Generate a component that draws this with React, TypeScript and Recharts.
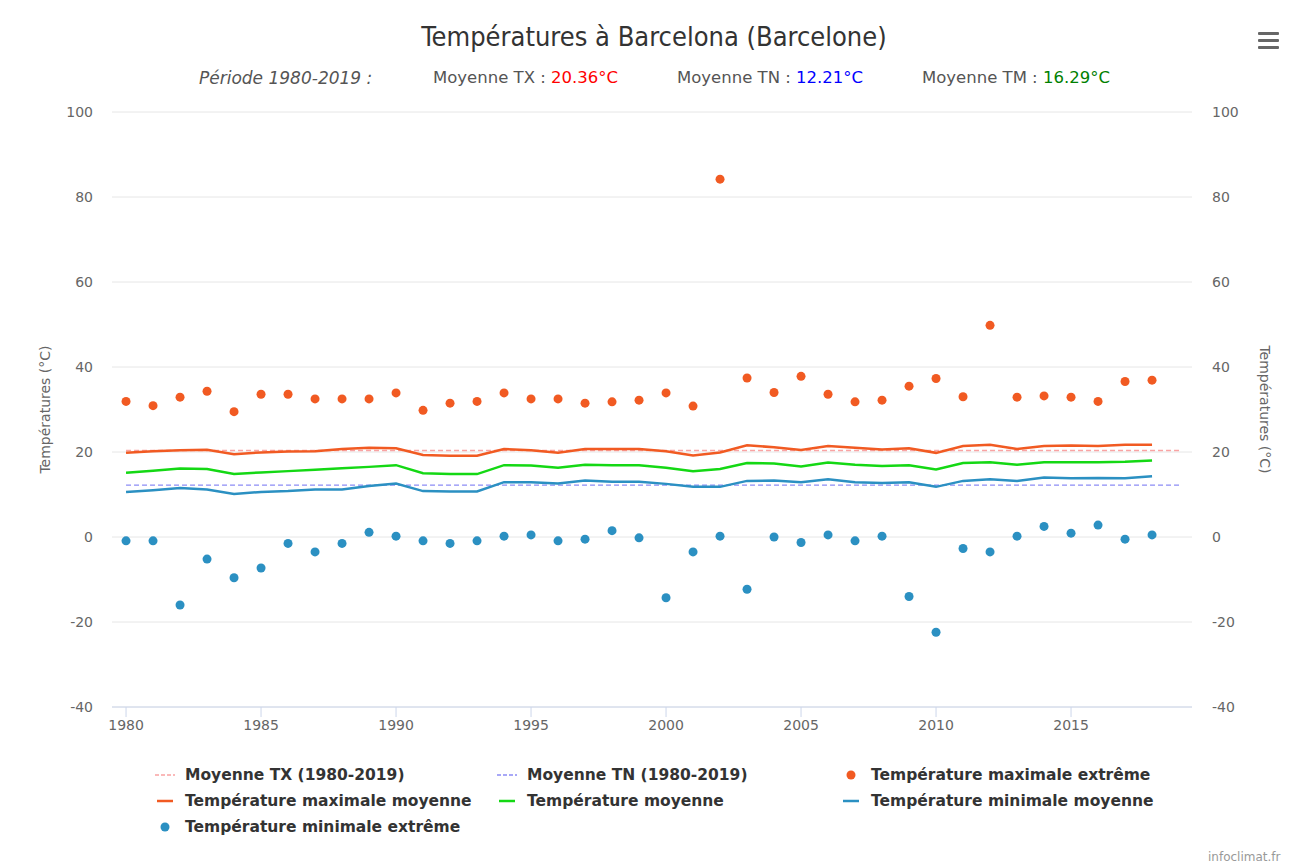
import React from 'react';
import { ComposedChart, Line, XAxis, YAxis, CartesianGrid } from 'recharts';

const years = [1980, 1981, 1982, 1983, 1984, 1985, 1986, 1987, 1988, 1989, 1990, 1991, 1992, 1993, 1994, 1995, 1996, 1997, 1998, 1999, 2000, 2001, 2002, 2003, 2004, 2005, 2006, 2007, 2008, 2009, 2010, 2011, 2012, 2013, 2014, 2015, 2016, 2017, 2018];
const txExtreme = [31.9, 30.9, 32.9, 34.3, 29.5, 33.6, 33.6, 32.5, 32.5, 32.5, 33.9, 29.8, 31.5, 31.9, 33.9, 32.5, 32.5, 31.5, 31.8, 32.2, 33.9, 30.8, 84.2, 37.4, 34.0, 37.8, 33.6, 31.8, 32.2, 35.5, 37.3, 33.0, 49.8, 32.9, 33.2, 32.9, 31.9, 36.6, 36.9];
const txMean = [19.8, 20.2, 20.4, 20.5, 19.5, 19.9, 20.1, 20.2, 20.7, 21.0, 20.9, 19.3, 19.1, 19.1, 20.7, 20.4, 19.8, 20.7, 20.7, 20.7, 20.2, 19.2, 19.9, 21.6, 21.1, 20.5, 21.4, 21.0, 20.6, 20.9, 19.8, 21.4, 21.7, 20.7, 21.4, 21.5, 21.4, 21.7, 21.7];
const tmMean = [15.1, 15.6, 16.1, 16.0, 14.8, 15.2, 15.5, 15.8, 16.2, 16.5, 16.9, 15.0, 14.8, 14.8, 16.9, 16.8, 16.3, 17.0, 16.9, 16.9, 16.3, 15.5, 16.0, 17.4, 17.3, 16.6, 17.5, 17.0, 16.7, 16.9, 15.9, 17.4, 17.6, 17.0, 17.6, 17.6, 17.6, 17.7, 18.0];
const tnMean = [10.6, 11.0, 11.5, 11.2, 10.1, 10.6, 10.8, 11.2, 11.2, 12.0, 12.6, 10.8, 10.7, 10.7, 12.9, 12.9, 12.6, 13.3, 13.0, 13.0, 12.5, 11.8, 11.8, 13.2, 13.3, 12.9, 13.6, 12.9, 12.7, 12.9, 11.8, 13.2, 13.6, 13.2, 14.0, 13.8, 13.9, 13.8, 14.3];
const tnExtreme = [-0.9, -0.9, -16.0, -5.2, -9.6, -7.3, -1.5, -3.5, -1.5, 1.1, 0.2, -0.9, -1.5, -0.9, 0.2, 0.5, -0.9, -0.5, 1.5, -0.2, -14.3, -3.5, 0.2, -12.3, 0.0, -1.3, 0.5, -0.9, 0.2, -14.0, -22.4, -2.7, -3.5, 0.2, 2.5, 0.9, 2.8, -0.5, 0.5];

const periodYears = [1980, 2019];
const avgTX = 20.36;
const avgTN = 12.21;
const avgTM = 16.29;

const xTicks = [1980, 1985, 1990, 1995, 2000, 2005, 2010, 2015];
const yTicks = [-40, -20, 0, 20, 40, 60, 80, 100];

const C_TX = '#f15a22';
const C_TM = '#14d814';
const C_TN = '#2b90c2';
const C_AVG_TX = '#f9a3a3';
const C_AVG_TN = '#8c8cf5';

const data = years.map((y, i) => ({
  year: y,
  txExt: txExtreme[i],
  txMean: txMean[i],
  tmMean: tmMean[i],
  tnMean: tnMean[i],
  tnExt: tnExtreme[i],
}));
const avgTXData = periodYears.map((y) => ({ year: y, v: avgTX }));
const avgTNData = periodYears.map((y) => ({ year: y, v: avgTN }));

const FONT = '"DejaVu Sans", Verdana, sans-serif';
const TITLE_FONT = '"DejaVu Sans Condensed", "DejaVu Sans", sans-serif';
const TICK_FONT = '"DejaVu Sans", Verdana, sans-serif';

const legendItems = [
  { name: 'Moyenne TX (1980-2019)', color: C_AVG_TX, type: 'dash', col: 0, row: 0 },
  { name: 'Moyenne TN (1980-2019)', color: C_AVG_TN, type: 'dash', col: 1, row: 0 },
  { name: 'Température maximale extrême', color: C_TX, type: 'dot', col: 2, row: 0 },
  { name: 'Température maximale moyenne', color: C_TX, type: 'line', col: 0, row: 1 },
  { name: 'Température moyenne', color: C_TM, type: 'line', col: 1, row: 1 },
  { name: 'Température minimale moyenne', color: C_TN, type: 'line', col: 2, row: 1 },
  { name: 'Température minimale extrême', color: C_TN, type: 'dot', col: 0, row: 2 },
];
const colX = [155, 497, 841];
const rowY = [775, 801, 827];

const LeftLabel = (props: any) => {
  const vb = props.viewBox || { x: 0, y: 112, width: 112, height: 595 };
  const cx = 45;
  const cy = vb.y + vb.height / 2;
  return (
    <text x={cx} y={cy} transform={`rotate(-90, ${cx}, ${cy})`} textAnchor="middle" dominantBaseline="central" fill="#666" fontSize={14} fontFamily={TICK_FONT}>
      Températures (°C)
    </text>
  );
};
const RightLabel = (props: any) => {
  const vb = props.viewBox || { x: 1192, y: 112, width: 106, height: 595 };
  const cx = 1265;
  const cy = vb.y + vb.height / 2;
  return (
    <text x={cx} y={cy} transform={`rotate(90, ${cx}, ${cy})`} textAnchor="middle" dominantBaseline="central" fill="#666" fontSize={14} fontFamily={TICK_FONT}>
      Températures (°C)
    </text>
  );
};

export default function App() {
  return (
    <div style={{ position: 'absolute', left: 0, top: 0, width: 1298, height: 865, background: '#fff', fontFamily: FONT, overflow: 'hidden' }}>
      <div style={{ position: 'absolute', left: 254, width: 800, top: 20, lineHeight: '34px', textAlign: 'center', fontSize: 27, color: '#333', fontFamily: TITLE_FONT }}>
        Températures à Barcelona (Barcelone)
      </div>
      <div style={{ position: 'absolute', left: 1258, top: 32, width: 21 }}>
        {[0, 7, 14].map((d) => (
          <div key={d} style={{ position: 'absolute', left: 0, top: d, width: 21, height: 3, background: '#666', borderRadius: 1 }} />
        ))}
      </div>
      <div style={{ position: 'absolute', top: 67, left: 0, width: 1298, height: 22, lineHeight: '22px', fontSize: 16.5, color: '#555', whiteSpace: 'nowrap' }}>
        <span style={{ position: 'absolute', left: 199, fontStyle: 'italic', fontSize: 17 }}>Période 1980-2019 :</span>
        <span style={{ position: 'absolute', left: 433 }}>Moyenne TX : <span style={{ color: '#ff0000' }}>{avgTX.toFixed(2)}°C</span></span>
        <span style={{ position: 'absolute', left: 677 }}>Moyenne TN : <span style={{ color: '#0000ff' }}>{avgTN.toFixed(2)}°C</span></span>
        <span style={{ position: 'absolute', left: 922 }}>Moyenne TM : <span style={{ color: '#008000' }}>{avgTM.toFixed(2)}°C</span></span>
      </div>
      <ComposedChart width={1298} height={865} data={data} margin={{ top: 112, right: 0, bottom: 0, left: 0 }}>
        <CartesianGrid vertical={false} stroke="#e6e6e6" strokeWidth={1} />
        <XAxis
          dataKey="year"
          type="number"
          domain={[1979.48, 2019.48]}
          ticks={xTicks}
          allowDataOverflow
          height={158}
          stroke="#ccd6eb"
          tickSize={10}
          tickMargin={3}
          tick={{ fill: '#666', fontSize: 14, fontFamily: TICK_FONT }}
          tickLine={{ stroke: '#ccd6eb' }}
        />
        <YAxis
          domain={[-40, 100]}
          ticks={yTicks}
          width={112}
          axisLine={false}
          tickLine={false}
          tickSize={0}
          tickMargin={19}
          allowDataOverflow
          tick={{ fill: '#666', fontSize: 14, fontFamily: TICK_FONT }}
          label={<LeftLabel />}
        />
        <YAxis
          yAxisId="right"
          orientation="right"
          domain={[-40, 100]}
          ticks={yTicks}
          width={106}
          axisLine={false}
          tickLine={false}
          tickSize={0}
          tickMargin={20}
          allowDataOverflow
          tick={{ fill: '#666', fontSize: 14, fontFamily: TICK_FONT }}
          label={<RightLabel />}
        />
        <Line data={avgTXData} dataKey="v" stroke={C_AVG_TX} strokeWidth={1.5} strokeDasharray="5 3" dot={false} activeDot={false} isAnimationActive={false} />
        <Line data={avgTNData} dataKey="v" stroke={C_AVG_TN} strokeWidth={1.2} strokeDasharray="5 3" dot={false} activeDot={false} isAnimationActive={false} />
        <Line dataKey="txMean" stroke={C_TX} strokeWidth={2.5} dot={false} activeDot={false} isAnimationActive={false} />
        <Line dataKey="tmMean" stroke={C_TM} strokeWidth={2.5} dot={false} activeDot={false} isAnimationActive={false} />
        <Line dataKey="tnMean" stroke={C_TN} strokeWidth={2.5} dot={false} activeDot={false} isAnimationActive={false} />
        <Line dataKey="txExt" stroke="none" dot={{ r: 4.5, fill: C_TX, stroke: 'none' }} activeDot={false} isAnimationActive={false} />
        <Line dataKey="tnExt" stroke="none" dot={{ r: 4.5, fill: C_TN, stroke: 'none' }} activeDot={false} isAnimationActive={false} />
      </ComposedChart>
      {legendItems.map((it) => {
        const x = colX[it.col];
        const y = rowY[it.row];
        return (
          <div key={it.name} style={{ position: 'absolute', left: x, top: y - 10, height: 20, whiteSpace: 'nowrap' }}>
            <svg width={20} height={20} style={{ position: 'absolute', left: 0, top: 0 }}>
              {it.type === 'dot' && <circle cx={10} cy={10} r={4.5} fill={it.color} />}
              {it.type === 'line' && <line x1={2} x2={18} y1={10} y2={10} stroke={it.color} strokeWidth={2.5} />}
              {it.type === 'dash' && <line x1={0} x2={20} y1={10} y2={10} stroke={it.color} strokeWidth={1.5} strokeDasharray="4 2" />}
            </svg>
            <span style={{ position: 'absolute', left: 30, top: 0, lineHeight: '20px', fontSize: 15.5, fontWeight: 'bold', color: '#333' }}>{it.name}</span>
          </div>
        );
      })}
      <div style={{ position: 'absolute', left: 1208, top: 850, fontSize: 12, color: '#999', fontFamily: TICK_FONT }}>infoclimat.fr</div>
    </div>
  );
}
